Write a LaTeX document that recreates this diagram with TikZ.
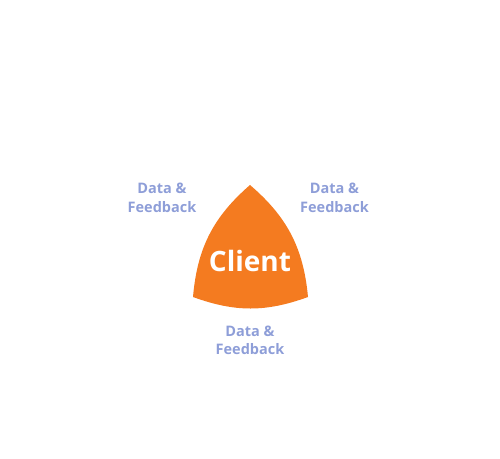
\documentclass[tikz,border=0pt]{standalone}
\usepackage{fontspec}
\setmainfont{Open Sans}
\definecolor{clientorange}{HTML}{F47B20}
\definecolor{labelblue}{HTML}{8E9ED8}
\begin{document}
\begin{tikzpicture}[x=1pt,y=1pt,
  lbl/.style={text=labelblue,font=\fontsize{14.5}{18.5}\selectfont\bfseries,align=center,inner sep=0pt},
  clienttext/.style={text=white,font=\fontsize{28}{32}\selectfont\bfseries,inner sep=0pt}]
\useasboundingbox (0,0) rectangle (500,458);
\coordinate (bl) at (193,161);
\coordinate (tp) at (250,273);
\coordinate (br) at (308,161);
\fill[clientorange] (bl) to[bend left=22] (tp) to[bend left=22] (br) to[bend left=20] (bl) -- cycle;
\node[clienttext] (client) at (250,197) {Client};
\node[lbl] (left) at (162,260) {Data \&\\Feedback};
\node[lbl] (right) at (334.5,260) {Data \&\\Feedback};
\node[lbl] (bottom) at (250,117.5) {Data \&\\Feedback};
\end{tikzpicture}
\end{document}
